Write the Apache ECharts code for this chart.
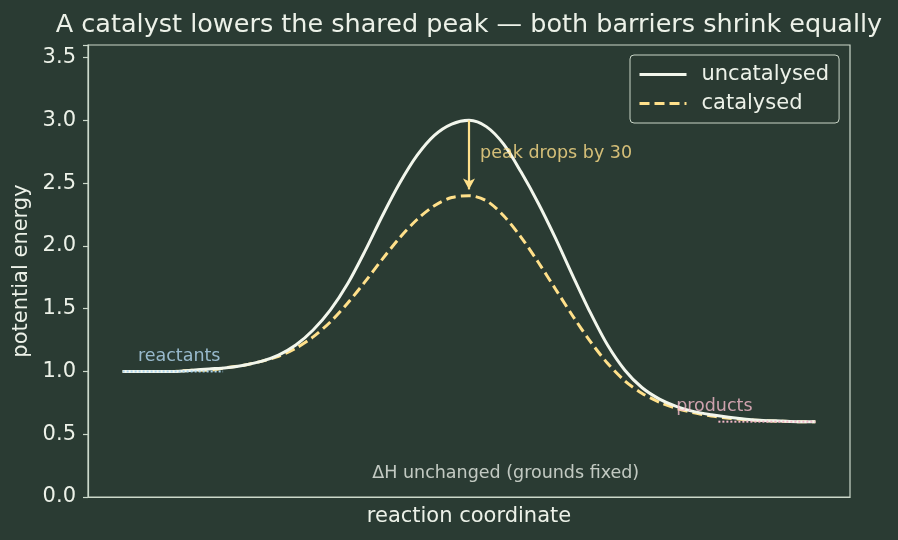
<!DOCTYPE html>
<html>
<head>
<meta charset="utf-8">
<script src="https://cdn.jsdelivr.net/npm/echarts@6/dist/echarts.min.js"></script>
<style>
  html, body { margin: 0; padding: 0; background: #2a3b33; }
  #chart { width: 898px; height: 540px; }
</style>
</head>
<body>
<div id="chart"></div>
<script>
// reaction coordinate samples
var coord = [0, 0.25, 0.5, 0.75, 1, 1.25, 1.5, 1.75, 2, 2.25, 2.5, 2.75, 3, 3.25, 3.5, 3.75, 4, 4.25, 4.5, 4.75,
    5, 5.25, 5.5, 5.75, 6, 6.25, 6.5, 6.75, 7, 7.25, 7.5, 7.75, 8, 8.25, 8.5, 8.75, 9, 9.25, 9.5, 9.75, 10];

var uncatalysed = [1.00, 1.00, 1.00, 1.00, 1.01, 1.02, 1.03, 1.05, 1.08, 1.13, 1.21, 1.33, 1.49, 1.70, 1.96, 2.24, 2.50, 2.72, 2.88, 2.97,
    3.00, 2.95, 2.81, 2.59, 2.34, 2.06, 1.76, 1.47, 1.21, 1.01, 0.87, 0.78, 0.72, 0.68, 0.655, 0.635, 0.62, 0.61, 0.605, 0.60, 0.60];

var catalysed = [1.00, 1.00, 1.00, 1.00, 1.01, 1.01, 1.03, 1.05, 1.08, 1.12, 1.185, 1.275, 1.395, 1.545, 1.715, 1.895, 2.065, 2.21, 2.32, 2.385,
    2.40, 2.36, 2.24, 2.07, 1.87, 1.655, 1.44, 1.24, 1.065, 0.925, 0.825, 0.755, 0.705, 0.67, 0.645, 0.628, 0.616, 0.608, 0.603, 0.60, 0.60];

var reactantLevel = [[0, 1.0], [1.45, 1.0]];
var productLevel = [[8.6, 0.6], [10, 0.6]];

var yTicks = [0, 0.5, 1.0, 1.5, 2.0, 2.5, 3.0, 3.5];

// annotations: [x, y, text, colour]
var notes = [
    [0.22, 1.12, 'reactants', '#b4daf2'],
    [7.99, 0.72, 'products', '#f6bccc'],
    [5.16, 2.74, 'peak drops by 30', '#ffe08a'],
    [5.53, 0.19, 'ΔH unchanged (grounds fixed)', '#e9eee6']
];

var peakArrow = [[5, 3.0], [5, 2.45]];

var FONT = '"DejaVu Sans", sans-serif';
var FG = '#ecf1e8';
var SPINE = '#cbd8ca';

function pairs(xs, ys) {
    var out = [];
    for (let i = 0; i < xs.length; i++) {
        out.push([xs[i], ys[i]]);
    }
    return out;
}

var noteSeries = notes.map(function (n) {
    return {
        type: 'scatter',
        name: n[2],
        data: [[n[0], n[1]]],
        symbolSize: 0,
        silent: true,
        z: 5,
        label: {
            show: true,
            position: [0, 0],
            align: n[2].indexOf('ΔH') === 0 ? 'center' : 'left',
            verticalAlign: 'middle',
            formatter: n[2],
            color: n[3],
            fontFamily: FONT,
            fontSize: 17.5
        }
    };
});

var option = {
    animation: false,
    backgroundColor: '#2a3b33',
    title: {
        text: 'A catalyst lowers the shared peak — both barriers shrink equally',
        left: 469,
        top: 12,
        padding: 0,
        textAlign: 'center',
        textStyle: { color: FG, fontFamily: FONT, fontSize: 25.5, fontWeight: 'normal' }
    },
    legend: {
        data: ['uncatalysed', 'catalysed'],
        orient: 'vertical',
        left: 630,
        top: 55,
        padding: [9, 10, 9, 8],
        itemGap: 8,
        itemWidth: 47,
        itemHeight: 22,
        borderColor: '#c9d5c7',
        borderWidth: 1,
        borderRadius: 4,
        backgroundColor: 'rgba(42,59,51,0.85)',
        itemStyle: { opacity: 0 },
        lineStyle: { width: 3 },
        textStyle: { color: FG, fontFamily: FONT, fontSize: 21, padding: [0, 0, 0, 10] }
    },
    grid: {
        left: 88, right: 48, top: 45, bottom: 43,
        show: true,
        borderColor: SPINE,
        borderWidth: 1.2,
        backgroundColor: 'transparent'
    },
    xAxis: {
        type: 'value',
        min: -0.5,
        max: 10.5,
        name: 'reaction coordinate',
        nameLocation: 'middle',
        nameGap: 9,
        nameTextStyle: { color: FG, fontFamily: FONT, fontSize: 21, verticalAlign: 'top' },
        axisLine: { show: true, onZero: false, lineStyle: { color: SPINE, width: 1.2 } },
        axisTick: { show: false },
        axisLabel: { show: false },
        splitLine: { show: false }
    },
    yAxis: {
        type: 'value',
        min: 0,
        max: 3.6,
        interval: 0.5,
        name: 'potential energy',
        nameLocation: 'middle',
        nameGap: 53,
        nameTextStyle: { color: FG, fontFamily: FONT, fontSize: 21 },
        axisLine: { show: true, onZero: false, lineStyle: { color: SPINE, width: 1.2 } },
        axisTick: { show: true, length: 5, lineStyle: { color: SPINE, width: 1.2 } },
        axisLabel: {
            color: FG, fontFamily: FONT, fontSize: 21, margin: 12,
            formatter: function (v) {
                return yTicks.indexOf(v) >= 0 ? v.toFixed(1) : '';
            }
        },
        splitLine: { show: false }
    },
    series: [
        {
            type: 'line',
            name: 'uncatalysed',
            data: pairs(coord, uncatalysed),
            smooth: 0.3,
            symbol: 'none',
            z: 3,
            lineStyle: { color: '#f2f6ec', width: 3, join: 'round' },
            itemStyle: { color: '#f2f6ec' }
        },
        {
            type: 'line',
            name: 'catalysed',
            data: pairs(coord, catalysed),
            smooth: 0.3,
            symbol: 'none',
            z: 2,
            lineStyle: { color: '#ffe08a', width: 3, type: [10, 5], join: 'round' },
            itemStyle: { color: '#ffe08a' },
            markLine: {
                silent: true,
                symbol: ['none', 'arrow'],
                symbolSize: [9, 11],
                label: { show: false },
                lineStyle: { color: '#ffe08a', width: 2.2, type: 'solid' },
                data: [[{ coord: peakArrow[0] }, { coord: peakArrow[1] }]]
            }
        },
        {
            type: 'line',
            name: 'reactant ground',
            data: reactantLevel,
            symbol: 'none',
            silent: true,
            z: 4,
            lineStyle: { color: '#a9d4ef', width: 2, type: 'dotted' }
        },
        {
            type: 'line',
            name: 'product ground',
            data: productLevel,
            symbol: 'none',
            silent: true,
            z: 4,
            lineStyle: { color: '#f3b6c8', width: 2, type: 'dotted' }
        }
    ].concat(noteSeries)
};

var myChart = echarts.init(document.getElementById('chart'));
myChart.setOption(option);
</script>
</body>
</html>
